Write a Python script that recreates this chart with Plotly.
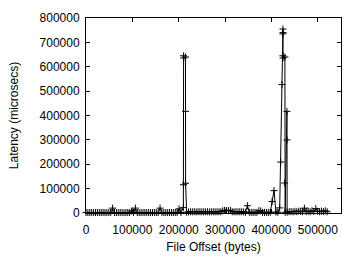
import plotly.graph_objects as go

# File offsets (bytes) and read latencies (microseconds), in plotting order
offsets = [
    0, 4096, 8192, 12288, 16384, 20480, 24576, 28672, 32768, 36864,
    40960, 45056, 49152, 53248, 57344, 61440, 65536, 69632, 73728, 77824,
    81920, 86016, 90112, 94208, 98304, 102400, 106496, 110592, 114688, 118784,
    122880, 126976, 131072, 135168, 139264, 143360, 147456, 151552, 155648, 159744,
    163840, 167936, 172032, 176128, 180224, 184320, 188416, 192512, 196608, 200704,
    204800,
    210000, 210200, 210500, 210700, 214600, 214700, 214800,
    217088, 221184, 225280, 229376, 233472, 237568, 241664, 245760, 249856, 253952,
    258048, 262144, 266240, 270336, 274432, 278528, 282624, 286720, 290816, 294912,
    299008, 303104, 307200, 311296, 315392, 319488, 323584, 327680, 331776, 335872,
    339968, 344064, 348160, 352256, 356352, 360448, 364544, 368640, 372736, 376832,
    380928, 385024, 389120, 393216, 397312, 401408, 405504, 409600, 413696, 417792,
    420000, 422700, 424600, 424800, 425000, 424700, 424900, 429000, 428500, 429500,
    433400, 433600, 433800,
    438272, 442368, 446464, 450560, 454656, 458752, 462848, 466944, 471040, 475136,
    479232, 483328, 487424, 491520, 495616, 499712, 503808, 507904, 512000, 516096,
    520192,
]
latency = [
    2000, 1500, 1800, 2200, 1600, 1900, 2100, 1700, 2000, 2300,
    1800, 1600, 2100, 2400, 20000, 2000, 1700, 1900, 2200, 1800,
    1600, 2000, 2300, 1900, 8000, 2200, 20000, 2000, 1800, 1700,
    2100, 1900, 2200, 1800, 1600, 2000, 2300, 1900, 2100, 20000,
    1800, 2000, 2200, 1700, 1900, 2100, 1800, 2000, 2300, 17000,
    2000,
    22000, 116000, 645000, 636000, 640000, 417000, 122000,
    3000, 4500, 5000, 4800, 5200, 4600, 5000, 5400, 4700, 5000,
    4800, 5200, 4500, 5000, 5300, 4700, 5000, 4900, 5100, 9000,
    11000, 10000, 9500, 11000, 5000, 4800, 5200, 4700, 5000, 5100,
    4600, 3000, 30000, 3000, 2500, 2600, 2400, 2500, 9000, 9000,
    2500, 2600, 2400, 2500, 2600, 47000, 92000, 4000, 3000, 21000,
    209000, 527000, 735000, 755000, 740000, 645000, 636000, 640000, 123000, 3000,
    417000, 300000, 3000,
    5000, 6000, 4500, 7000, 5500, 8000, 6500, 5000, 20000, 6000,
    7500, 5000, 9000, 6000, 18000, 7000, 5500, 8000, 6000, 9000,
    5000,
]

x_ticks = [0, 100000, 200000, 300000, 400000, 500000]
y_ticks = [0, 100000, 200000, 300000, 400000, 500000, 600000, 700000, 800000]

fig = go.Figure()
fig.add_trace(go.Scatter(
    x=offsets, y=latency, mode="lines+markers",
    line=dict(color="black", width=1),
    marker=dict(symbol="cross-thin", size=5, color="black",
                line=dict(width=1, color="black")),
    cliponaxis=False, showlegend=False,
))

font = dict(family="Liberation Sans, Arial, sans-serif", size=12, color="black")
axis_common = dict(
    showgrid=False, zeroline=False, showline=True, linecolor="black", linewidth=1,
    mirror="ticks", ticks="inside", ticklen=4, tickcolor="black", tickwidth=1,
    tickfont=font,
)
fig.update_layout(
    width=353, height=263,
    margin=dict(l=86, r=11, t=15, b=47),
    paper_bgcolor="white", plot_bgcolor="white",
    font=font,
    xaxis=dict(range=[0, 550000], tickvals=x_ticks,
               ticktext=[str(v) for v in x_ticks], ticklabelstandoff=6,
               title=dict(text="File Offset (bytes)", font=font, standoff=6),
               **axis_common),
    yaxis=dict(range=[0, 800000], tickvals=y_ticks,
               ticktext=[str(v) for v in y_ticks], ticklabelstandoff=3,
               title=dict(text="Latency (microsecs)", font=font, standoff=18),
               **axis_common),
)
fig.write_html("out.html")
